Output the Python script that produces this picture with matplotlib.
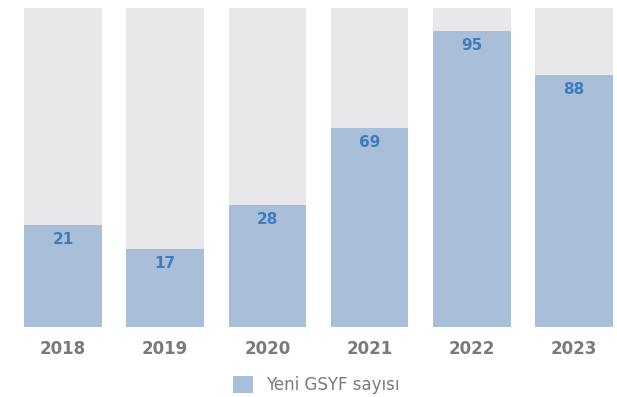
import matplotlib.pyplot as plt
from matplotlib.patches import Patch

# 데이터
years = ["2018", "2019", "2020", "2021", "2022", "2023"]
values = [21, 17, 28, 69, 95, 88]
# bar heights as drawn in the picture (share of the full gray column)
drawn_heights = [0.32, 0.245, 0.382, 0.624, 0.928, 0.79]

gray = "#e8e8ea"
blue = "#a9bfd9"
label_blue = "#3f7cbc"

fig = plt.figure(figsize=(6.17, 3.97), dpi=100)
ax = fig.add_axes([0, 70 / 397, 1, 319 / 397])

x = list(range(len(years)))
ax.bar(x, [1] * len(years), width=0.76, color=gray, zorder=1)
ax.bar(x, drawn_heights, width=0.76, color=blue, zorder=2)

for xi, h, v in zip(x, drawn_heights, values):
    ax.text(xi, h - 0.045, str(v), ha="center", va="center",
            fontsize=11, fontweight="bold", color=label_blue, zorder=3)

ax.set_xlim(-63 / 102.2, (617 - 63) / 102.2)
ax.set_ylim(0, 1)
ax.set_xticks(x)
ax.set_xticklabels(years, fontsize=12, fontweight="bold", color="#7a7a7a")
ax.tick_params(axis="x", length=0, pad=9)
ax.set_yticks([])
for s in ax.spines.values():
    s.set_visible(False)

handles = [Patch(facecolor=blue, edgecolor="none", label="Yeni GSYF sayısı")]
fig.legend(handles=handles, loc="center", bbox_to_anchor=(316 / 617, 12 / 397),
           frameon=False, fontsize=12, labelcolor="#7a7a7a",
           handlelength=1.2, handleheight=1.2, handletextpad=0.8)

fig.savefig("out.png", dpi=100)
